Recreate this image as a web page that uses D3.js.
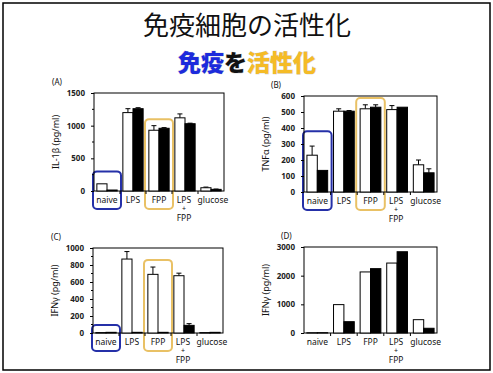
<!DOCTYPE html>
<html>
<head>
<meta charset="utf-8">
<script src="https://cdn.jsdelivr.net/npm/d3@7/dist/d3.min.js"></script>
<style>
	body { margin: 0; background: #fff; }
	svg { display: block; }
	text { font-family: "Noto Sans", "Open Sans", sans-serif; }
</style>
</head>
<body>
<svg id="chart" width="493" height="373"></svg>
<script>
// categories on every x axis
const categories = ["naive", "LPS", "FPP", "LPS+FPP", "glucose"];

// (A) IL-1b
const il1bWhite = [110, 1200, 930, 1120, 50];
const il1bWhiteErr = [0, 60, 70, 60, 10];
const il1bBlack = [15, 1260, 960, 1030, 25];
const il1bBlackErr = [0, 15, 10, 8, 5];

// (B) TNFa
const tnfWhite = [230, 505, 520, 515, 170];
const tnfWhiteErr = [57, 15, 25, 25, 30];
const tnfBlack = [135, 505, 530, 530, 120];
const tnfBlackErr = [0, 4, 15, 0, 25];

// (C) IFNg
const ifnCWhite = [5, 870, 690, 674, 5];
const ifnCWhiteErr = [0, 88, 86, 30, 0];
const ifnCBlack = [8, 8, 8, 90, 8];
const ifnCBlackErr = [0, 0, 0, 20, 0];

// (D) IFNg
const ifnDWhite = [10, 990, 2130, 2440, 465];
const ifnDBlack = [10, 395, 2245, 2835, 165];

// highlight boxes: [category, top value, colour]
const boxesA = [["naive", 300, "blue"], ["FPP", 1100, "gold"]];
const boxesB = [["naive", 380, "blue"], ["FPP", 587, "gold"]];
const boxesC = [["naive", 95, "blue"], ["FPP", 860, "gold"]];

const boxColors = { blue: "#2530a8", gold: "#e9c165" };

const svg = d3.select("#chart");

// outer frame
svg.append("rect")
	.attr("x", 3).attr("y", 3)
	.attr("width", 487).attr("height", 367)
	.attr("fill", "none").attr("stroke", "#000").attr("stroke-width", 1.5);

// titles
svg.append("text")
	.attr("x", 247).attr("y", 35)
	.attr("text-anchor", "middle")
	.style("font-family", "'Noto Sans CJK JP', sans-serif")
	.style("font-size", "26px")
	.attr("fill", "#111")
	.text("免疫細胞の活性化");

const sub = svg.append("text")
	.attr("x", 247).attr("y", 71)
	.attr("text-anchor", "middle")
	.style("font-family", "'Noto Sans CJK JP', sans-serif")
	.style("font-size", "23px")
	.style("font-weight", 900)
	.attr("stroke", "#c8c8c8").attr("stroke-width", 0.6)
	.attr("paint-order", "stroke");
sub.append("tspan").attr("fill", "#1c2bdc").text("免疫");
sub.append("tspan").attr("fill", "#111").text("を");
sub.append("tspan").attr("fill", "#f5bb26").text("活性化");

const panels = [
	{ tag: "(A)", label: "IL-1β (pg/ml)", x0: 94, x1: 224, y0: 93, y1: 191, max: 1500, step: 500, minor: 250,
		white: il1bWhite, whiteErr: il1bWhiteErr, black: il1bBlack, blackErr: il1bBlackErr, boxes: boxesA },
	{ tag: "(B)", label: "TNFα (pg/ml)", x0: 304, x1: 437, y0: 96, y1: 192, max: 600, step: 100, minor: null,
		white: tnfWhite, whiteErr: tnfWhiteErr, black: tnfBlack, blackErr: tnfBlackErr, boxes: boxesB },
	{ tag: "(C)", label: "IFNγ (pg/ml)", x0: 93, x1: 223, y0: 248, y1: 333, max: 1000, step: 200, minor: 100,
		white: ifnCWhite, whiteErr: ifnCWhiteErr, black: ifnCBlack, blackErr: ifnCBlackErr, boxes: boxesC },
	{ tag: "(D)", label: "IFNγ (pg/ml)", x0: 304, x1: 437, y0: 247, y1: 333, max: 3000, step: 1000, minor: null,
		white: ifnDWhite, whiteErr: null, black: ifnDBlack, blackErr: null, boxes: [] },
];

panels.forEach((p, pi) => {
	const g = svg.append("g");

	const x = d3.scaleBand().domain(categories).range([p.x0, p.x1]).paddingInner(0.22).paddingOuter(0.11);
	const xSub = d3.scaleBand().domain(["w", "b"]).range([0, x.bandwidth()]);
	const y = d3.scaleLinear().domain([0, p.max]).range([p.y1, p.y0]);

	// highlight boxes (behind bars)
	p.boxes.forEach(([cat, top, col]) => {
		const cx = x(cat) + x.bandwidth() / 2;
		const half = x.step() / 2 + 1;
		g.append("rect")
			.attr("x", cx - half).attr("y", y(top))
			.attr("width", half * 2).attr("height", p.y1 - y(top) + 18)
			.attr("rx", 4)
			.attr("fill", "none")
			.attr("stroke", boxColors[col])
			.attr("stroke-width", 2);
	});

	// plot frame
	g.append("rect")
		.attr("x", p.x0).attr("y", p.y0)
		.attr("width", p.x1 - p.x0).attr("height", p.y1 - p.y0)
		.attr("fill", "none").attr("stroke", "#000").attr("stroke-width", 1);

	const rows = categories.map((c, i) => ({
		c,
		w: p.white[i], we: p.whiteErr ? p.whiteErr[i] : 0,
		b: p.black[i], be: p.blackErr ? p.blackErr[i] : 0,
	}));

	const series = [
		{ key: "w", val: (d) => d.w, err: (d) => d.we, fill: "#fff" },
		{ key: "b", val: (d) => d.b, err: (d) => d.be, fill: "#000" },
	];

	series.forEach((s) => {
		// error bars (upper only)
		g.selectAll(null)
			.data(rows.filter((d) => s.err(d) > 0))
			.join("path")
			.attr("d", (d) => {
				const cx = x(d.c) + xSub(s.key) + xSub.bandwidth() / 2;
				const top = y(s.val(d) + s.err(d));
				return `M${cx},${y(s.val(d))}V${top}M${cx - 2.5},${top}H${cx + 2.5}`;
			})
			.attr("stroke", "#000").attr("stroke-width", 1).attr("fill", "none");

		g.selectAll(null)
			.data(rows)
			.join("rect")
			.attr("x", (d) => x(d.c) + xSub(s.key))
			.attr("y", (d) => y(s.val(d)))
			.attr("width", xSub.bandwidth())
			.attr("height", (d) => p.y1 - y(s.val(d)))
			.attr("fill", s.fill)
			.attr("stroke", "#000").attr("stroke-width", 1);
	});

	// y axis
	const yAxis = d3.axisLeft(y)
		.tickValues(d3.range(0, p.max + 1, p.step))
		.tickFormat(d3.format("d"))
		.tickSize(3).tickPadding(6);
	const ya = g.append("g").attr("transform", `translate(${p.x0},0)`).call(yAxis);
	ya.select(".domain").remove();
	ya.selectAll("text")
		.style("font-size", "8px").style("font-weight", "bold")
		.attr("fill", "#222");
	if (p.minor) {
		g.selectAll(null)
			.data(d3.range(p.minor, p.max, p.minor * 2))
			.join("line")
			.attr("x1", p.x0 - 2).attr("x2", p.x0)
			.attr("y1", (d) => y(d)).attr("y2", (d) => y(d))
			.attr("stroke", "#000");
	}

	// x axis tick marks at category boundaries
	const edge = (i) => x(categories[i]) - x.step() * x.paddingInner() / 2;
	g.selectAll(null)
		.data(d3.range(1, categories.length))
		.join("line")
		.attr("x1", edge).attr("x2", edge)
		.attr("y1", p.y1).attr("y2", p.y1 + 3)
		.attr("stroke", "#000");

	// category labels
	categories.forEach((c) => {
		const cx = x(c) + x.bandwidth() / 2 + (c === "glucose" ? 2 : 0);
		const lines = c === "LPS+FPP" ? ["LPS", "+", "FPP"] : [c];
		lines.forEach((l, li) => {
			g.append("text")
				.attr("x", c === "LPS+FPP" ? cx - 1 : cx)
				.attr("y", p.y1 + 12 + (li === 0 ? 0 : li === 1 ? 8 : 18))
				.attr("text-anchor", "middle")
				.style("font-size", l === "+" ? "7px" : "8.5px")
				.attr("fill", "#111")
				.text(l);
		});
	});

	// y label
	g.append("text")
		.attr("transform", `translate(${p.x0 - 35},${(p.y0 + p.y1) / 2}) rotate(-90)`)
		.attr("text-anchor", "middle")
		.style("font-size", "9px")
		.attr("fill", "#111")
		.text(p.label);

	// panel tag
	g.append("text")
		.attr("x", pi % 2 === 0 ? p.x0 - 42 : p.x0 - (pi === 1 ? 33 : 23))
		.attr("y", p.y0 - 8)
		.style("font-size", "8px")
		.attr("fill", "#111")
		.text(p.tag);
});
</script>
</body>
</html>
